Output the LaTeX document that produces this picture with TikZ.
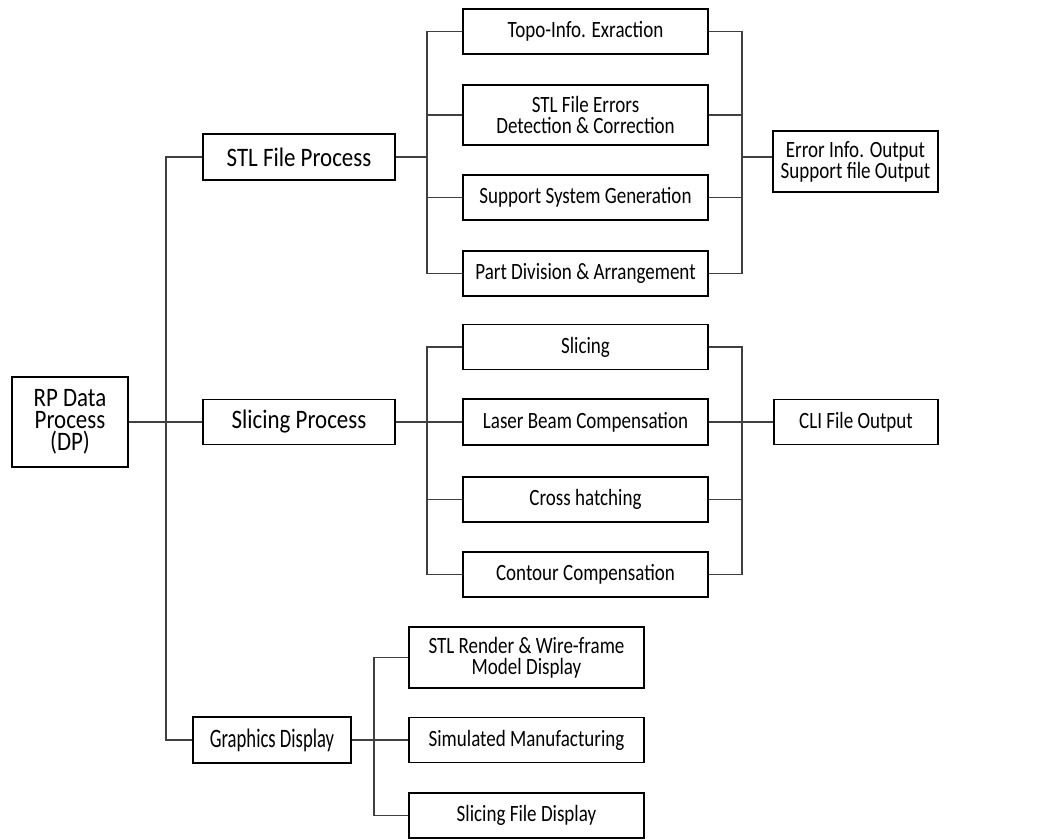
\documentclass[tikz,border=0pt]{standalone}
\usepackage{fontspec}
\setmainfont{Carlito}
\newfontfamily\lvlfont{Carlito}[FakeStretch=0.86]
\newfontfamily\gdfont{Carlito}[FakeStretch=0.70]
\newfontfamily\subfont{Carlito}[FakeStretch=0.815]
\begin{document}
\begin{tikzpicture}[x=0.75pt,y=-0.75pt,
  box/.style={draw=black, line width=1.1pt, inner sep=0pt, align=center,
              font=\subfont\fontsize{17.5}{15.75}\selectfont},
  top/.style={box, font=\lvlfont\fontsize{20}{16.3}\selectfont},
  topn/.style={box, font=\gdfont\fontsize{20}{16.3}\selectfont},
  sz/.style 2 args={minimum width=#1*0.75pt, minimum height=#2*0.75pt},
  link/.style={draw=black!75, line width=0.8pt}]
\useasboundingbox (0,0) rectangle (1045,839);

% root and first level
\node[top,sz={116}{90}]  (rp)   at (70,422)  {RP Data\\Process\\(DP)};
\node[top,sz={192}{46}]  (stlp) at (299,157) {STL File Process};
\node[top,sz={192}{45}]  (slp)  at (299,422) {Slicing Process};
\node[topn,sz={158}{46}] (gd)   at (272,740) {Graphics Display};

% STL file process tasks
\node[box,sz={245}{45}] (topo) at (585.5,31.5)  {Topo-Info. Exraction};
\node[box,sz={245}{60}] (err)  at (585.5,115)   {STL File Errors\\Detection \& Correction};
\node[box,sz={245}{45}] (sup)  at (585.5,197.5) {Support System Generation};
\node[box,sz={245}{45}] (part) at (585.5,273.5) {Part Division \& Arrangement};
\node[box,sz={165}{61}] (eout) at (855.5,161.5) {Error Info. Output\\Support file Output};

% slicing process tasks
\node[box,sz={245}{45}] (slc)   at (585.5,347)   {Slicing};
\node[box,sz={245}{46}] (laser) at (585.5,422)   {Laser Beam Compensation};
\node[box,sz={245}{45}] (cross) at (585.5,499.5) {Cross hatching};
\node[box,sz={245}{45}] (cont)  at (585.5,574.5) {Contour Compensation};
\node[box,sz={164}{45}] (cli)   at (856,422)     {CLI File Output};

% graphics display tasks
\node[box,sz={235}{61}] (rend) at (526.5,657.5) {STL Render \& Wire-frame\\Model Display};
\node[box,sz={235}{45}] (sim)  at (526.5,740)   {Simulated Manufacturing};
\node[box,sz={235}{45}] (sfd)  at (526.5,815.5) {Slicing File Display};

% bus positions
\coordinate (tk) at (166,0);
\coordinate (bl) at (427,0);
\coordinate (br) at (742,0);
\coordinate (bg) at (374,0);

% root trunk
\draw[link] (rp.east) -- (slp.west);
\draw[link] (stlp.west) -| (tk |- gd.west) -- (gd.west);

% STL file process buses
\draw[link] (topo.west) -| (bl |- part.west) -- (part.west);
\draw[link] (stlp.east) -- (bl |- stlp.east);
\draw[link] (err.west) -- (bl |- err.west);
\draw[link] (sup.west) -- (bl |- sup.west);
\draw[link] (topo.east) -| (br |- part.east) -- (part.east);
\draw[link] (err.east) -- (br |- err.east);
\draw[link] (sup.east) -- (br |- sup.east);
\draw[link] (br |- stlp.east) -- (eout.west |- stlp.east);

% slicing process buses
\draw[link] (slc.west) -| (bl |- cont.west) -- (cont.west);
\draw[link] (slp.east) -- (laser.west);
\draw[link] (cross.west) -- (bl |- cross.west);
\draw[link] (slc.east) -| (br |- cont.east) -- (cont.east);
\draw[link] (cross.east) -- (br |- cross.east);
\draw[link] (laser.east) -- (cli.west);

% graphics display bus
\draw[link] (rend.west) -| (bg |- sfd.west) -- (sfd.west);
\draw[link] (gd.east) -- (sim.west);
\end{tikzpicture}
\end{document}
